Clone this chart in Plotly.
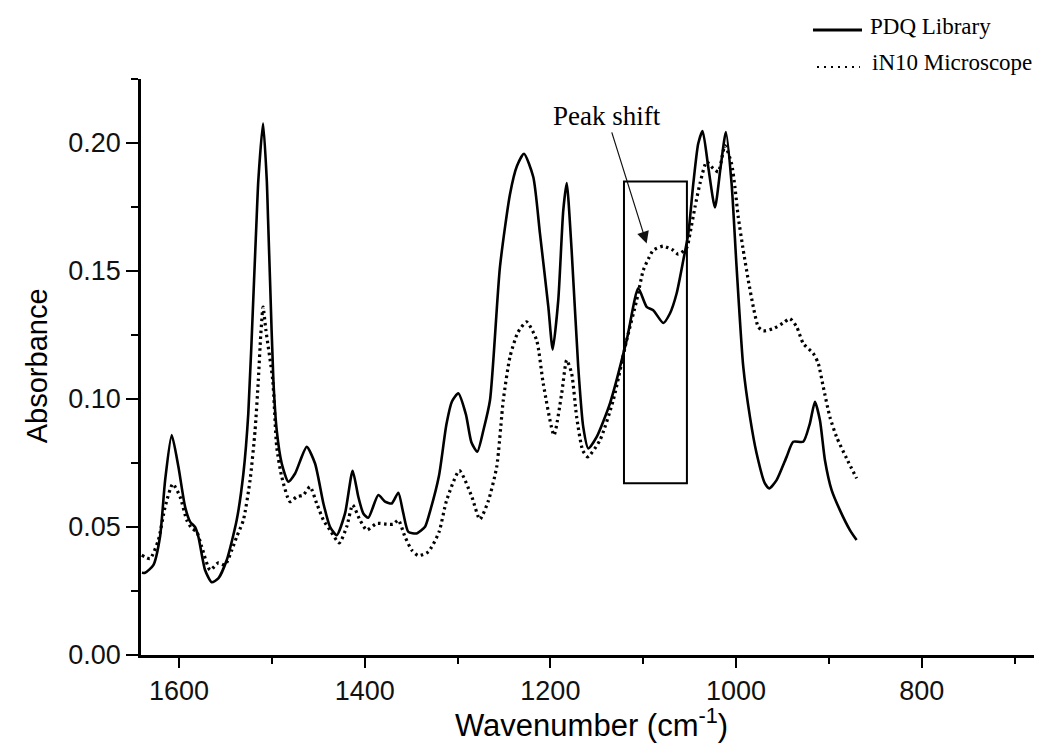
import plotly.graph_objects as go

# PDQ library spectrum (wavenumber in cm-1, absorbance)
pdq_wn = [1640.0, 1636.6, 1627.7, 1620.5, 1615.0, 1607.9, 1600.7, 1593.5, 1588.0, 1582.8,
          1579.2, 1572.0, 1564.8, 1557.7, 1548.6, 1537.9, 1530.7, 1525.4, 1519.2, 1516.5,
          1514.6, 1509.5, 1505.5, 1504.1, 1502.0, 1498.4, 1494.8, 1489.4, 1482.3, 1475.0,
          1462.5, 1453.5, 1444.5, 1437.4, 1430.2, 1421.2, 1413.0, 1406.9, 1401.5, 1396.1,
          1385.4, 1378.1, 1370.9, 1363.8, 1358.4, 1353.0, 1344.0, 1335.0, 1329.7, 1320.0,
          1312.0, 1306.0, 1299.2, 1291.0, 1285.0, 1278.7, 1272.0, 1265.0, 1254.3, 1243.5,
          1236.0, 1228.4, 1218.4, 1211.2, 1202.2, 1197.5, 1191.5, 1186.1, 1182.4, 1177.1,
          1170.0, 1164.6, 1159.2, 1150.1, 1135.8, 1117.8, 1105.3, 1096.3, 1089.2, 1078.4,
          1071.2, 1064.0, 1056.8, 1051.4, 1046.0, 1040.7, 1036.0, 1029.9, 1022.7, 1016.6,
          1010.9, 1004.8, 999.4, 992.2, 985.0, 977.8, 968.9, 964.2, 956.3, 945.5,
          938.4, 927.6, 920.4, 915.0, 909.6, 904.2, 897.0, 888.1, 877.3, 870.1]
pdq_abs = [0.0321, 0.0321, 0.0351, 0.0462, 0.0683, 0.0859, 0.0735, 0.0579, 0.0520, 0.0500,
           0.0462, 0.0332, 0.0284, 0.0299, 0.0371, 0.0527, 0.0709, 0.0944, 0.1464, 0.1700,
           0.1854, 0.2077, 0.1854, 0.1700, 0.1464, 0.1074, 0.0878, 0.0748, 0.0677, 0.0709,
           0.0813, 0.0748, 0.0592, 0.0501, 0.0468, 0.0553, 0.0720, 0.0618, 0.0553, 0.0536,
           0.0625, 0.0599, 0.0592, 0.0634, 0.0553, 0.0481, 0.0475, 0.0501, 0.0560, 0.0700,
           0.0900, 0.0990, 0.1022, 0.0940, 0.0830, 0.0794, 0.0880, 0.0996, 0.1516, 0.1800,
           0.1910, 0.1958, 0.1867, 0.1646, 0.1360, 0.1193, 0.1386, 0.1737, 0.1844, 0.1581,
           0.1126, 0.0891, 0.0807, 0.0852, 0.0983, 0.1230, 0.1432, 0.1360, 0.1347, 0.1297,
           0.1334, 0.1412, 0.1542, 0.1646, 0.1842, 0.1998, 0.2047, 0.1906, 0.1748, 0.1906,
           0.2043, 0.1842, 0.1516, 0.1126, 0.0930, 0.0787, 0.0670, 0.0651, 0.0683, 0.0774,
           0.0833, 0.0833, 0.0905, 0.0989, 0.0917, 0.0761, 0.0644, 0.0566, 0.0488, 0.0449]

# iN10 microscope spectrum
in10_wn = [1640.2, 1631.2, 1622.3, 1615.0, 1606.8, 1598.9, 1591.7, 1586.3, 1580.9, 1575.6,
           1566.6, 1557.7, 1550.5, 1543.2, 1537.9, 1530.7, 1523.5, 1518.1, 1514.6, 1512.0,
           1509.5, 1506.5, 1499.1, 1494.8, 1489.4, 1480.5, 1473.2, 1466.1, 1458.9, 1451.7,
           1444.5, 1437.4, 1427.4, 1419.4, 1413.0, 1405.1, 1397.8, 1387.1, 1376.3, 1369.2,
           1363.8, 1356.6, 1349.4, 1342.3, 1331.5, 1320.0, 1311.7, 1298.0, 1284.8, 1276.0,
           1267.0, 1257.8, 1250.7, 1243.5, 1235.0, 1225.6, 1214.8, 1207.7, 1196.1, 1187.8,
           1182.4, 1177.1, 1171.7, 1165.2, 1159.8, 1146.6, 1132.2, 1117.8, 1107.0, 1099.9,
           1093.4, 1089.2, 1078.4, 1067.6, 1062.2, 1053.2, 1049.6, 1044.2, 1038.8, 1031.7,
           1024.5, 1019.1, 1011.9, 1004.8, 1001.2, 997.6, 992.2, 986.8, 981.4, 976.1,
           970.7, 959.9, 949.2, 942.0, 934.7, 927.6, 916.8, 911.4, 906.0, 898.9,
           891.7, 880.9, 870.1]
in10_abs = [0.0390, 0.0377, 0.0449, 0.0579, 0.0668, 0.0618, 0.0527, 0.0495, 0.0481, 0.0423,
            0.0332, 0.0360, 0.0351, 0.0410, 0.0462, 0.0527, 0.0683, 0.0878, 0.1074, 0.1250,
            0.1359, 0.1270, 0.1074, 0.0813, 0.0696, 0.0599, 0.0618, 0.0625, 0.0657, 0.0592,
            0.0527, 0.0488, 0.0438, 0.0501, 0.0586, 0.0527, 0.0488, 0.0514, 0.0511, 0.0511,
            0.0527, 0.0462, 0.0410, 0.0388, 0.0403, 0.0480, 0.0605, 0.0720, 0.0620, 0.0530,
            0.0600, 0.0735, 0.0996, 0.1165, 0.1260, 0.1301, 0.1230, 0.1061, 0.0859, 0.1022,
            0.1152, 0.1100, 0.0930, 0.0800, 0.0774, 0.0839, 0.0996, 0.1230, 0.1386, 0.1503,
            0.1555, 0.1581, 0.1597, 0.1581, 0.1566, 0.1590, 0.1646, 0.1750, 0.1842, 0.1926,
            0.1900, 0.1887, 0.1990, 0.1919, 0.1828, 0.1711, 0.1581, 0.1464, 0.1360, 0.1282,
            0.1266, 0.1275, 0.1297, 0.1314, 0.1282, 0.1217, 0.1178, 0.1139, 0.1047, 0.0930,
            0.0852, 0.0768, 0.0690]

x_ticks = [1600, 1400, 1200, 1000, 800]
y_ticks = [0.00, 0.05, 0.10, 0.15, 0.20]

# highlighted region around the shifted band
box_wn = [1120.7, 1052.9]
box_abs = [0.0671, 0.185]

SERIF = "Liberation Serif, Times New Roman, serif"
SANS = "Liberation Sans, Arial, sans-serif"

fig = go.Figure()
fig.add_trace(go.Scatter(x=pdq_wn, y=pdq_abs, mode="lines", name="PDQ Library",
                         line=dict(color="black", width=2.6, shape="spline", smoothing=0.6)))
fig.add_trace(go.Scatter(x=in10_wn, y=in10_abs, mode="lines", name="iN10 Microscope",
                         line=dict(color="black", width=3.2, dash="2.5px,3.5px",
                                   shape="spline", smoothing=0.6)))

fig.add_shape(type="rect", xref="x", yref="y", x0=box_wn[0], x1=box_wn[1],
              y0=box_abs[0], y1=box_abs[1], line=dict(color="black", width=2))

# "Peak shift" label, its arrow pointing into the box
fig.add_annotation(x=1096.3, y=0.1607, ax=1139.4, ay=0.2106, xref="x", yref="y",
                   axref="x", ayref="y", text="Peak shift", showarrow=True,
                   arrowhead=2, arrowsize=2.0, arrowwidth=1.2, arrowcolor="#111",
                   font=dict(family=SERIF, size=27, color="black"))

# legend drawn at the top right corner
fig.add_shape(type="line", xref="paper", yref="paper", x0=0.7525, x1=0.8074,
              y0=1.085, y1=1.085, line=dict(color="black", width=3))
fig.add_shape(type="line", xref="paper", yref="paper", x0=0.757, x1=0.805,
              y0=1.021, y1=1.021, line=dict(color="black", width=2, dash="2px,5px"))
fig.add_annotation(x=0.8141, y=1.092, xref="paper", yref="paper", text="PDQ Library",
                   showarrow=False, xanchor="left", yanchor="middle",
                   font=dict(family=SERIF, size=23, color="black"))
fig.add_annotation(x=0.8163, y=1.028, xref="paper", yref="paper", text="iN10 Microscope",
                   showarrow=False, xanchor="left", yanchor="middle",
                   font=dict(family=SERIF, size=23, color="black"))

# axis titles
fig.add_annotation(x=0.505, y=-0.118, xref="paper", yref="paper",
                   text="Wavenumber (cm<sup>-1</sup>)", showarrow=False,
                   xanchor="center", yanchor="middle",
                   font=dict(family=SANS, size=31, color="black"))
fig.add_annotation(x=-0.1165, y=0.503, xref="paper", yref="paper", text="Absorbance",
                   textangle=-90, showarrow=False, xanchor="center", yanchor="middle",
                   font=dict(family=SANS, size=29, color="black"))

axis_common = dict(showline=True, linecolor="black", linewidth=2.5, ticks="outside",
                   tickcolor="black", tickwidth=2, showgrid=False, zeroline=False,
                   tickfont=dict(family=SANS, size=27, color="#111"))

fig.update_xaxes(range=[1641, 679], tickvals=x_ticks, ticklen=10,
                 minor=dict(dtick=100, tick0=0, ticks="outside", ticklen=6,
                            tickcolor="black", tickwidth=2), **axis_common)
fig.update_yaxes(range=[0, 0.225], tickvals=y_ticks, tickformat=".2f", ticklen=12,
                 minor=dict(dtick=0.025, tick0=0, ticks="outside", ticklen=7,
                            tickcolor="black", tickwidth=2), **axis_common)

fig.update_layout(width=1053, height=753, showlegend=False,
                  margin=dict(l=141, r=19, t=79, b=98),
                  plot_bgcolor="white", paper_bgcolor="white")

fig.write_html("out.html")
